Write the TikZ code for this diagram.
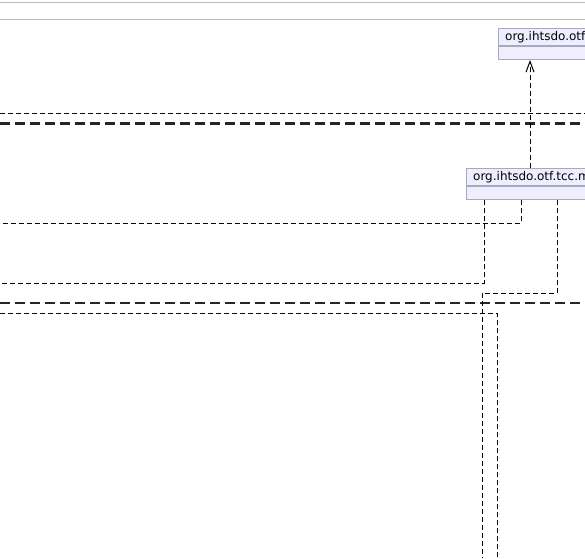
\documentclass[tikz,border=0pt]{standalone}
\usepackage{fontspec}
\setmainfont{DejaVu Sans}
\usetikzlibrary{arrows.meta}
\definecolor{boxfill}{RGB}{238,238,255}
\definecolor{boxdraw}{RGB}{168,168,190}
\definecolor{sepline}{RGB}{185,185,185}
\begin{document}
\begin{tikzpicture}[x=0.75pt,y=-0.75pt,
  sepl/.style={draw=sepline,line width=0.9pt},
  dep/.style={draw=black,line width=0.75pt,dash pattern=on 3.75pt off 2.25pt},
  thickdep/.style={draw=black!85,line width=1.7pt,dash pattern=on 7.5pt off 3.75pt},
  boxhead/.style={draw=boxdraw,fill=boxfill,line width=0.75pt,anchor=north west,
     minimum height=12.75pt,inner ysep=0pt,inner xsep=5pt,text width=100pt,align=left,
     font=\fontsize{9pt}{10pt}\selectfont},
  boxbody/.style={draw=boxdraw,fill=boxfill,line width=0.75pt,anchor=north west,
     minimum height=9.75pt,minimum width=110pt,inner sep=0pt},
  tip/.style={-{Straight Barb[length=8pt,width=6pt,line width=0.75pt]}}]
\useasboundingbox (0,0) rectangle (585,558);
\clip (0,0) rectangle (585,558);
% separator lines
\coordinate (s1l) at (0,2.5); \coordinate (s1r) at (585,2.5);
\coordinate (s2l) at (0,19.5); \coordinate (s2r) at (585,19.5);
\draw[sepl] (s1l) -- (s1r);
\draw[sepl] (s2l) -- (s2r);
% boxes
\node[boxhead] (b1) at (498,28) {org.ihtsdo.otf};
\node[boxbody] (b1b) at (b1.south west) {};
\node[boxhead] (b2) at (466,168) {org.ihtsdo.otf.tcc.m};
\node[boxbody] (b2b) at (b2.south west) {};
% full width lines
\coordinate (h1l) at (0,113); \coordinate (h1r) at (585,113);
\coordinate (h2l) at (0,123.5); \coordinate (h2r) at (585,123.5);
\coordinate (h3l) at (0,303); \coordinate (h3r) at (585,303);
\draw[dep] (h1l) -- (h1r);
\draw[thickdep] (h2l) -- (h2r);
\draw[thickdep] (h3l) -- (h3r);
% arrow from box2 to box1
\coordinate (ax) at (530,100);
\draw[dep,tip] (ax |- b2.north) -- (ax |- b1b.south);
% lines from box2
\coordinate (c1) at (521,223); \coordinate (c1l) at (0,223);
\draw[dep] (c1 |- b2b.south) -- (c1) -- (c1l);
\coordinate (c2) at (484,283); \coordinate (c2l) at (0,283);
\draw[dep] (c2 |- b2b.south) -- (c2) -- (c2l);
\coordinate (c3) at (557,293); \coordinate (c3b) at (482,293); \coordinate (c3e) at (482,558);
\draw[dep] (c3 |- b2b.south) -- (c3) -- (c3b) -- (c3e);
\coordinate (c4l) at (0,313); \coordinate (c4) at (497,313); \coordinate (c4e) at (497,558);
\draw[dep] (c4l) -- (c4) -- (c4e);
\end{tikzpicture}
\end{document}
